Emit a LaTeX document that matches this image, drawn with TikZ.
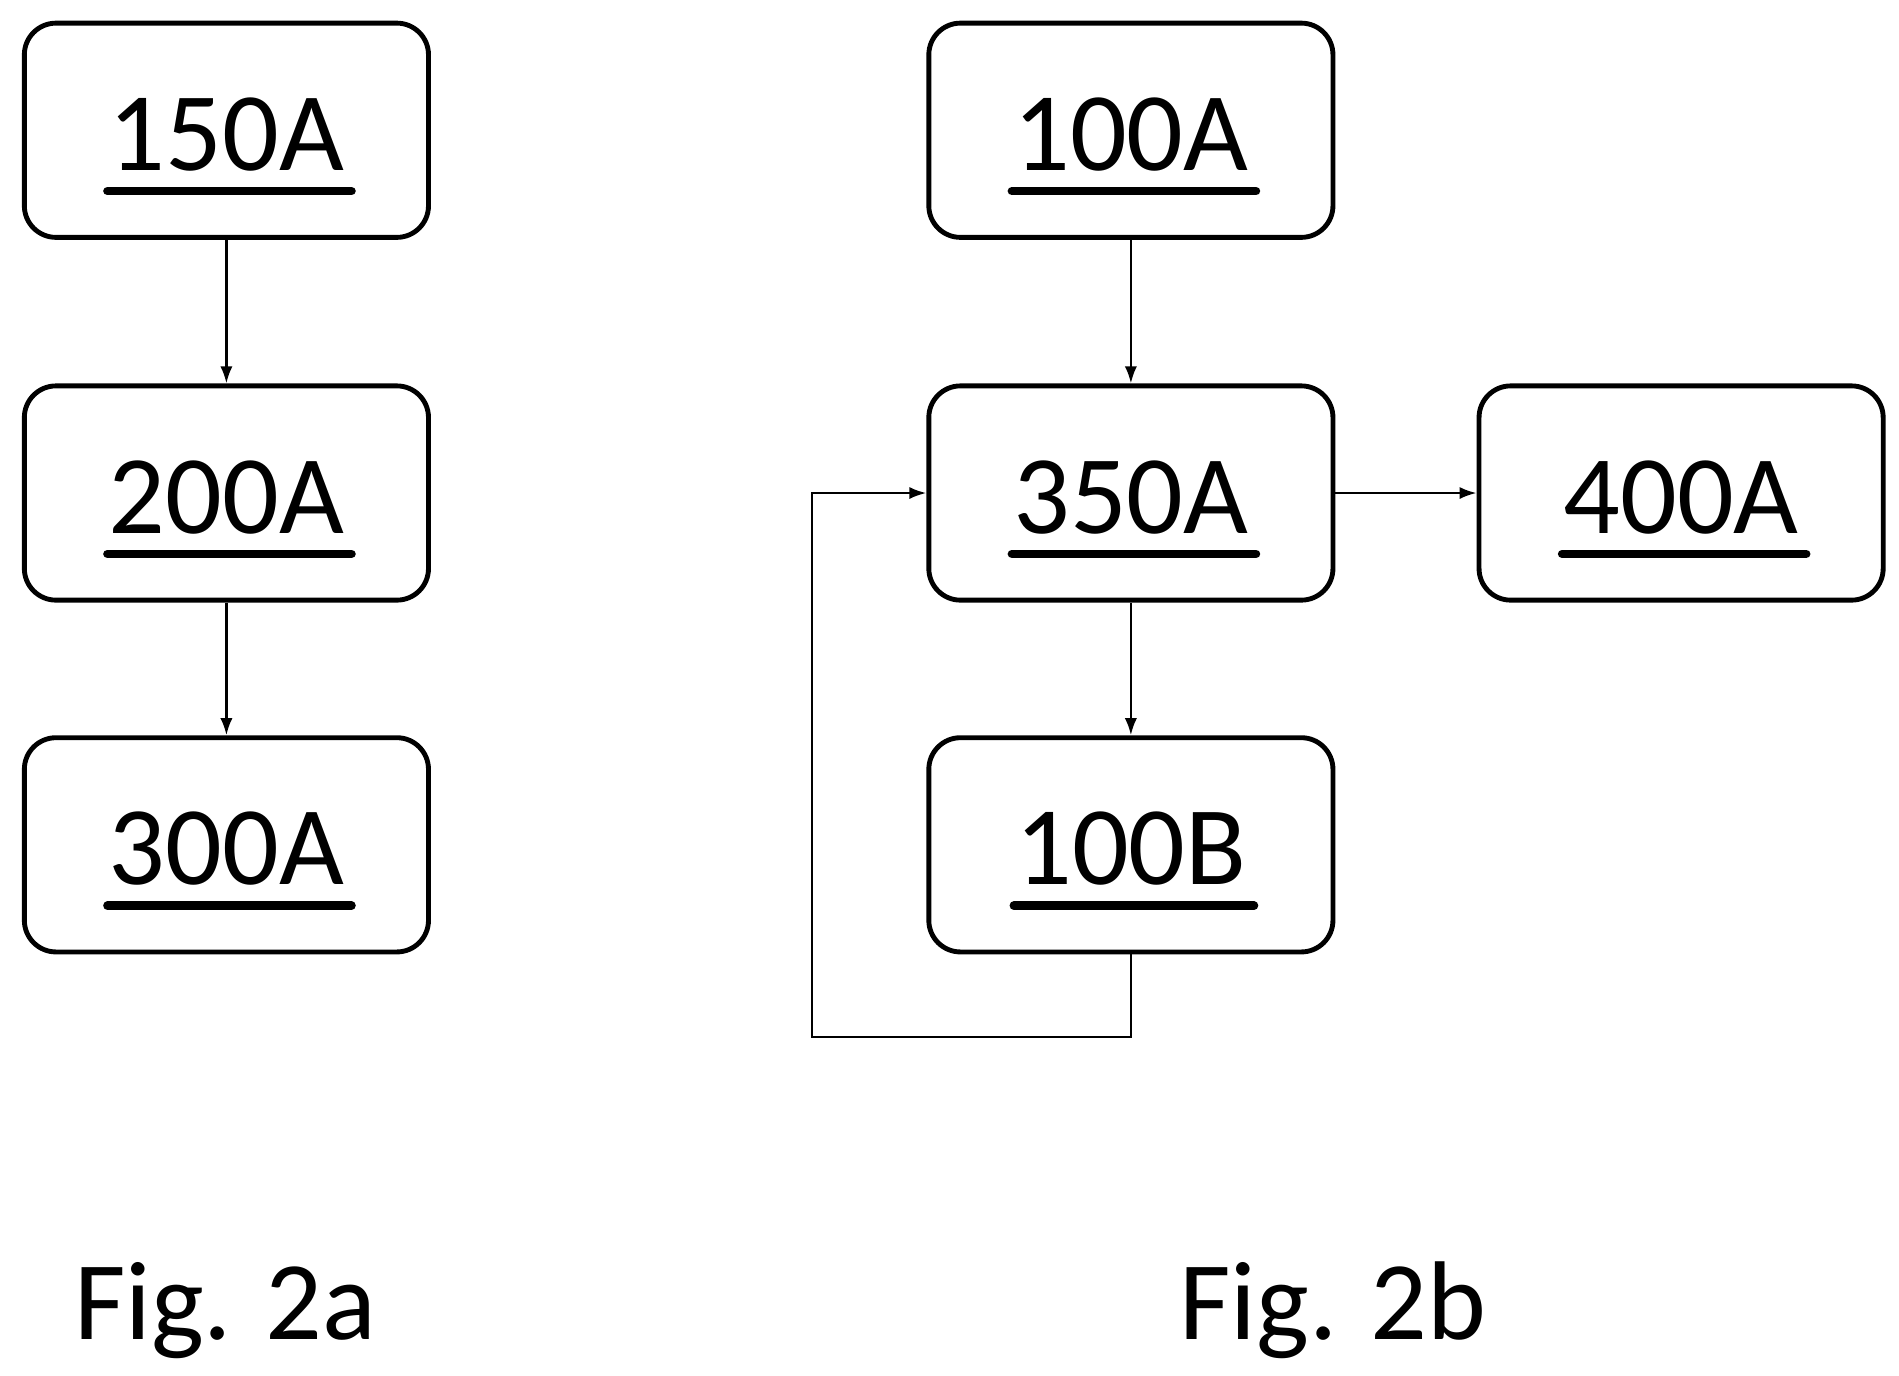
\documentclass[tikz,border=0pt]{standalone}
\usepackage{fontspec}
\setmainfont{Carlito}
\usetikzlibrary{arrows.meta}
\begin{document}
\begin{tikzpicture}[x=1pt,y=-1pt,
  box/.style={draw,line width=4pt,rounded corners=26pt,minimum width=332pt,minimum height=176pt,inner sep=0pt},
  lbl/.style={font=\fontsize{92}{92}\selectfont,anchor=base,inner sep=0pt},
  ul/.style={line width=7pt,line cap=round},
  con/.style={line width=2pt,-{Latex[length=14pt,width=10pt]}},
  fig/.style={font=\fontsize{92}{92}\selectfont,anchor=base,inner sep=0pt}]
\useasboundingbox (0,0) rectangle (1560,1130);
\newcommand\blk[4]{%
  \node[box] (#1) at (#2,#3) {};
  \node[lbl] (#1t) at (#2,#3+33) {#4};
  \draw[ul] ([xshift=-1pt,yshift=-17pt]#1t.base west) -- ([xshift=6pt,yshift=-17pt]#1t.base east);}
\blk{a150}{186}{107}{150A}
\blk{a200}{186}{405}{200A}
\blk{a300}{186}{694}{300A}
\blk{a100}{929}{107}{100A}
\blk{a350}{929}{405}{350A}
\blk{a400}{1381}{405}{400A}
\blk{b100}{929}{694}{100B}
\draw[con] (a150) -- (a200);
\draw[con] (a200) -- (a300);
\draw[con] (a100) -- (a350);
\draw[con] (a350) -- (b100);
\draw[con] (a350) -- (a400);
\coordinate (c1) at (929,852);
\coordinate (c2) at (667,852);
\draw[con] (b100.south) -- (c1) -- (c2) |- (a350.west);
\node[fig] (f1) at (185,1100) {Fig. 2a};
\node[fig] (f2) at (1095,1100) {Fig. 2b};
\end{tikzpicture}
\end{document}
